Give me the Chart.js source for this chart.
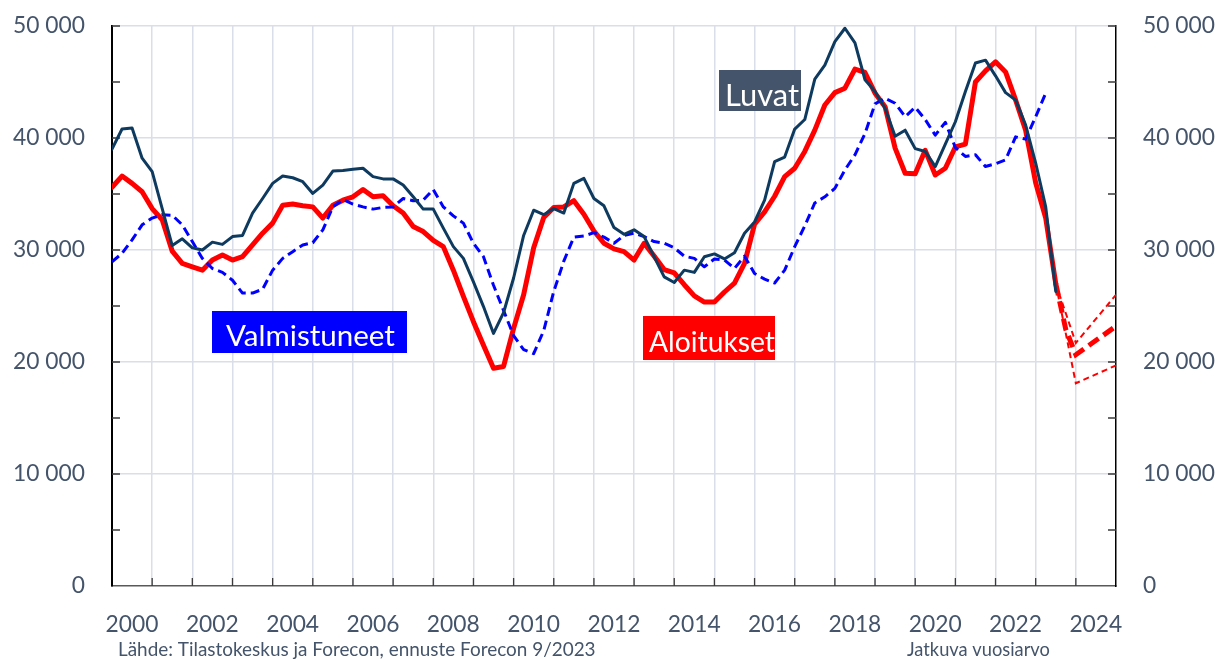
<!DOCTYPE html>
<html>
<head>
<meta charset="utf-8">
<script src="https://cdn.jsdelivr.net/npm/chart.js@4.4.1/dist/chart.umd.min.js"></script>
<style>
html,body{margin:0;padding:0;background:#ffffff;}
#wrap{width:1221px;height:659px;position:relative;}
</style>
</head>
<body>
<div id="wrap"><canvas id="c"></canvas></div>
<script>
// ---- data (quarterly, first point = start of 2000) ----
const startYear = 2000;
const endYear = 2025;
const pointsPerYear = 4;
const yearLabels = [2000, 2002, 2004, 2006, 2008, 2010, 2012, 2014, 2016, 2018, 2020, 2022, 2024];
const valueTicks = [0, 10000, 20000, 30000, 40000, 50000];

const luvat = [
  39000, 40800, 40900, 38200, 37000, 33700, 30400, 31000, 30200, 30000,
  30700, 30500, 31200, 31300, 33300, 34600, 35950, 36600, 36450, 36100,
  35050, 35800, 37050, 37100, 37200, 37300, 36550, 36350, 36350, 35800,
  34750, 33650, 33650, 31950, 30300, 29250, 27150, 24950, 22550, 24400,
  27500, 31300, 33550, 33150, 33700, 33300, 35950, 36400, 34600, 33950,
  32000, 31400, 31800, 31200, 29400, 27600, 27100, 28200, 28000, 29400,
  29650, 29200, 29750, 31500, 32500, 34450, 37900, 38300, 40800, 41650,
  45250, 46500, 48600, 49800, 48500, 45200, 44150, 42650, 40150, 40700,
  39050, 38800, 37450, 39450, 41450, 44150, 46700, 46950, 45550, 44050,
  43400, 41150, 37750, 33850, 26300
];

const aloitukset = [
  35600, 36600, 35950, 35200, 33700, 32700, 29900, 28800, 28500, 28200,
  29100, 29550, 29100, 29400, 30450, 31500, 32400, 34000, 34100, 33950,
  33850, 32850, 34000, 34450, 34750, 35400, 34750, 34850, 33950, 33300,
  32100, 31650, 30850, 30300, 28200, 25850, 23600, 21500, 19450, 19600,
  23000, 26000, 30200, 32900, 33800, 33850, 34400, 33200, 31700, 30600,
  30100, 29850, 29100, 30600, 29450, 28250, 27950, 26900, 25900, 25350,
  25350, 26250, 27050, 28800, 32300, 33400, 34800, 36550, 37300, 38800,
  40700, 42950, 44050, 44450, 46150, 45850, 44000, 42800, 39100, 36850,
  36800, 38900, 36700, 37300, 39200, 39450, 45000, 46000, 46800, 45900,
  43400, 40700, 36000, 32850, 27000
];

const valmistuneet = [
  28950, 29700, 30900, 32250, 32850, 33150, 33100, 32250, 30750, 29250,
  28350, 28000, 27300, 26150, 26150, 26500, 28200, 29250, 29850, 30450,
  30650, 31800, 33850, 34500, 34100, 33850, 33650, 33800, 33850, 34600,
  34400, 34450, 35400, 33850, 33050, 32400, 30600, 29400, 26850, 24600,
  22350, 21100, 20750, 22800, 26300, 29000, 31150, 31250, 31550, 31150,
  30600, 31300, 31500, 31200, 30750, 30600, 30200, 29450, 29250, 28500,
  29200, 29100, 28350, 29450, 27900, 27400, 27050, 28200, 30300, 32150,
  34200, 34750, 35500, 37150, 38500, 40400, 43050, 43550, 43100, 41900,
  42750, 41650, 40250, 41400, 39150, 38350, 38500, 37450, 37700, 38050,
  40100, 39900, 41900, 44000
];

// forecast of starts (quarter index -> value)
const ennusteIndex = [94, 95, 96, 100];
const ennuste      = [27000, 22900, 20650, 23200];
const ennusteYlaIndex = [94, 96, 100];
const ennusteYla      = [27000, 21700, 26000];
const ennusteAlaIndex = [94, 96, 100];
const ennusteAla      = [27000, 18100, 19700];

// ---- helpers ----
const FONT = 'Lato';
const TEXT_COLOR = '#44546a';
const toPts = arr => arr.map((v, i) => ({ x: startYear + i / pointsPerYear, y: v }));
const toPtsIdx = (idx, vals) => idx.map((q, k) => ({ x: startYear + q / pointsPerYear, y: vals[k] }));
const fmt = v => String(v).replace(/\B(?=(\d{3})+(?!\d))/g, ' ');

const mctx = document.createElement('canvas').getContext('2d');
function fitSize(text, width, weight) {
  mctx.font = (weight || 'normal') + ' 100px ' + FONT;
  return 100 * width / mctx.measureText(text).width;
}
const tickSize = Math.round(fitSize('50 000', 72) * 10) / 10;

const notes = [
  { text: 'Luvat', bg: '#44546a', box: [719, 70, 82, 41], tx: 725, base: 106, w: 74 },
  { text: 'Valmistuneet', bg: '#0000ff', box: [212, 311, 195, 42], tx: 226, base: 346, w: 169 },
  { text: 'Aloitukset', bg: '#ff0000', box: [643, 316, 132, 44], tx: 649, base: 352, w: 126 }
];
const footers = [
  { text: 'Lähde: Tilastokeskus ja Forecon, ennuste Forecon 9/2023', x: 118, base: 656, w: 478 },
  { text: 'Jatkuva vuosiarvo', x: 907, base: 656, w: 143 }
];

const decor = {
  id: 'decor',
  beforeDatasetsDraw(chart) {
    const { ctx, chartArea: a, scales } = chart;
    const x = scales.x, y = scales.y;
    ctx.save();
    ctx.strokeStyle = '#3a3a3a';
    ctx.lineWidth = 1.3;
    ctx.beginPath();
    for (let yr = startYear + 1; yr < endYear; yr++) {
      const px = x.getPixelForValue(yr);
      ctx.moveTo(px, a.bottom);
      ctx.lineTo(px, a.bottom - 8);
    }
    for (let v = 5000; v <= 50000; v += 5000) {
      const py = y.getPixelForValue(v);
      ctx.moveTo(a.left, py); ctx.lineTo(a.left + 8, py);
      ctx.moveTo(a.right, py); ctx.lineTo(a.right - 8, py);
    }
    ctx.stroke();
    ctx.restore();
  },
  afterDraw(chart) {
    const ctx = chart.ctx;
    ctx.save();
    notes.forEach(n => {
      ctx.fillStyle = n.bg;
      ctx.fillRect(n.box[0], n.box[1], n.box[2], n.box[3]);
      ctx.save();
      ctx.beginPath();
      ctx.rect(n.box[0], n.box[1], n.box[2], n.box[3]);
      ctx.clip();
      ctx.fillStyle = '#ffffff';
      ctx.font = fitSize(n.text, n.w) + 'px ' + FONT;
      ctx.textBaseline = 'alphabetic';
      ctx.textAlign = 'left';
      ctx.fillText(n.text, n.tx, n.base);
      ctx.restore();
    });
    footers.forEach(f => {
      ctx.fillStyle = TEXT_COLOR;
      ctx.font = fitSize(f.text, f.w) + 'px ' + FONT;
      ctx.textBaseline = 'alphabetic';
      ctx.textAlign = 'left';
      ctx.fillText(f.text, f.x, f.base);
    });
    ctx.restore();
  }
};

const GRID = '#d9dee8';
const fitY = w => s => { s.width = w; s.paddingTop = 0; s.paddingBottom = 0; };

new Chart(document.getElementById('c'), {
  type: 'line',
  data: {
    datasets: [
      { label: 'Luvat', data: toPts(luvat), borderColor: '#0d3a5e', borderWidth: 3,
        pointRadius: 0, tension: 0, borderJoinStyle: 'round', borderCapStyle: 'round', order: 1 },
      { label: 'Valmistuneet', data: toPts(valmistuneet), borderColor: '#0000ff', borderWidth: 3,
        borderDash: [9, 5], pointRadius: 0, tension: 0, borderJoinStyle: 'round', order: 2 },
      { label: 'Aloitukset', data: toPts(aloitukset), borderColor: '#ff0000', borderWidth: 5,
        pointRadius: 0, tension: 0, borderJoinStyle: 'round', borderCapStyle: 'round', order: 3 },
      { label: 'Ennuste', data: toPtsIdx(ennusteIndex, ennuste), borderColor: '#ff0000', borderWidth: 5,
        borderDash: [12, 6], pointRadius: 0, tension: 0, spanGaps: true, order: 4 },
      { label: 'Ennuste ylä', data: toPtsIdx(ennusteYlaIndex, ennusteYla), borderColor: '#ff0000', borderWidth: 2,
        borderDash: [6, 4], pointRadius: 0, tension: 0, spanGaps: true, order: 5 },
      { label: 'Ennuste ala', data: toPtsIdx(ennusteAlaIndex, ennusteAla), borderColor: '#ff0000', borderWidth: 2,
        borderDash: [6, 4], pointRadius: 0, tension: 0, spanGaps: true, order: 6 }
    ]
  },
  options: {
    responsive: true,
    maintainAspectRatio: false,
    animation: false,
    events: [],
    layout: { padding: { top: 26, left: 0, right: 0, bottom: 0 } },
    plugins: { legend: { display: false }, tooltip: { enabled: false } },
    scales: {
      x: {
        type: 'linear', min: startYear, max: endYear, offset: false,
        grid: {
          drawTicks: false, lineWidth: 1.5,
          color: c => (c.tick && (c.tick.value === startYear || c.tick.value === endYear)) ? 'rgba(0,0,0,0)' : GRID
        },
        border: { display: true, color: '#595959', width: 1.5 },
        ticks: {
          stepSize: 1, autoSkip: false, maxRotation: 0, minRotation: 0,
          labelOffset: 20, padding: 25,
          color: TEXT_COLOR, font: { family: FONT, size: tickSize },
          callback: v => yearLabels.includes(v) ? String(v) : ''
        },
        afterFit: s => { s.height = 73; s.paddingLeft = 0; s.paddingRight = 0; }
      },
      y: {
        position: 'left', min: 0, max: 50000,
        grid: {
          drawTicks: false, lineWidth: 1.5,
          color: c => (c.tick && c.tick.value % 10000 === 0 && c.tick.value !== 0) ? GRID : 'rgba(0,0,0,0)'
        },
        border: { display: true, color: '#000000', width: 2 },
        ticks: {
          stepSize: 5000, padding: 27, color: TEXT_COLOR, font: { family: FONT, size: tickSize },
          callback: v => valueTicks.includes(v) ? fmt(v) : ''
        },
        afterFit: fitY(112)
      },
      y2: {
        position: 'right', min: 0, max: 50000,
        grid: { drawTicks: false, drawOnChartArea: false, color: 'rgba(0,0,0,0)' },
        border: { display: true, color: '#000000', width: 1.5 },
        ticks: {
          stepSize: 5000, padding: 27, color: TEXT_COLOR, font: { family: FONT, size: tickSize },
          callback: v => valueTicks.includes(v) ? fmt(v) : ''
        },
        afterFit: fitY(105)
      }
    }
  },
  plugins: [decor]
});
</script>
</body>
</html>
